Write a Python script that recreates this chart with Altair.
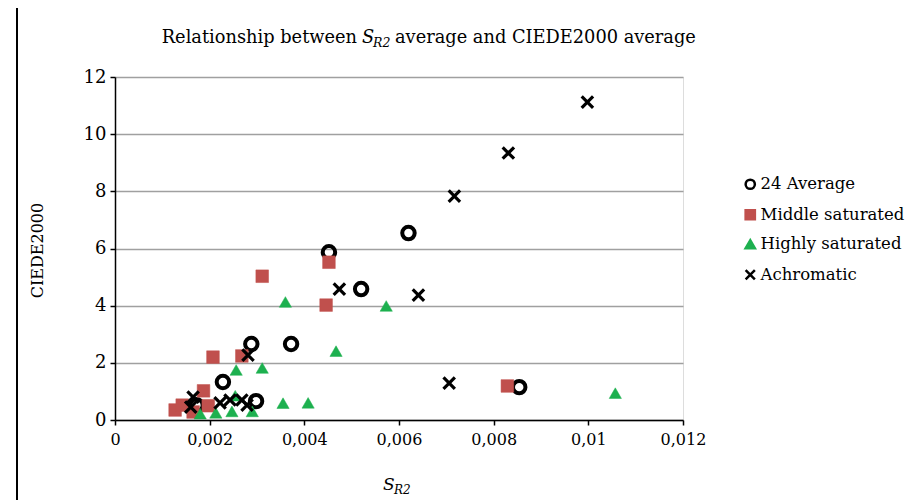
import altair as alt
import pandas as pd

SERIES = ["24 Average", "Middle saturated", "Highly saturated", "Achromatic"]

avg_x = [0.00172, 0.00228, 0.00288, 0.00298, 0.00372, 0.00452, 0.0052, 0.0062, 0.00854]
avg_y = [0.52, 1.33, 2.66, 0.66, 2.66, 5.87, 4.58, 6.54, 1.15]

mid_x = [0.00127, 0.00142, 0.00165, 0.00197, 0.00187, 0.00207, 0.00268, 0.00311, 0.00446, 0.00452, 0.00829]
mid_y = [0.35, 0.52, 0.28, 0.5, 1.02, 2.2, 2.24, 5.03, 4.02, 5.52, 1.19]

hi_x = [0.0018, 0.00213, 0.00247, 0.00254, 0.0029, 0.00256, 0.00311, 0.00355, 0.0036, 0.00408, 0.00467, 0.00573, 0.01057]
hi_y = [0.22, 0.25, 0.3, 0.85, 0.3, 1.75, 1.82, 0.59, 4.13, 0.6, 2.41, 3.99, 0.94]

ach_x = [0.0016, 0.00165, 0.00222, 0.00243, 0.00268, 0.00279, 0.00281, 0.00474, 0.00641, 0.00706, 0.00717, 0.00831, 0.00998]
ach_y = [0.45, 0.8, 0.6, 0.7, 0.7, 0.52, 2.27, 4.58, 4.37, 1.29, 7.83, 9.34, 11.12]

X_TICKS = [0, 0.002, 0.004, 0.006, 0.008, 0.01, 0.012]
Y_TICKS = [0, 2, 4, 6, 8, 10, 12]

TITLE_LEFT = ["Relationship between"]
TITLE_S = ["S"]
TITLE_SUB = ["R2"]
TITLE_RIGHT = ["average and CIEDE2000 average"]
Y_TITLE = "CIEDE2000"

rows = []
for name, xs, ys in [(SERIES[0], avg_x, avg_y), (SERIES[1], mid_x, mid_y),
                     (SERIES[2], hi_x, hi_y), (SERIES[3], ach_x, ach_y)]:
    for x, y in zip(xs, ys):
        rows.append({"series": name, "x": x, "y": y})
df = pd.DataFrame(rows)

FONT = "DejaVu Serif"
XPATH = "M-1,-1L1,1M-1,1L1,-1"

# size / stroke width use the series in reverse order so their (hidden)
# legends are not merged with the visible shape/colour legend
REV = SERIES[::-1]

leg = alt.Legend(title=None,
                 labelExpr="datum.label == 'Achromatic' ? '\u00a0Achromatic' : datum.label")

points = alt.Chart(df).mark_point(opacity=1).encode(
    x=alt.X("x:Q", scale=alt.Scale(domain=[0, 0.012], nice=False),
            axis=alt.Axis(values=X_TICKS, title=None, grid=False, labelFlush=False,
                          labelExpr="replace(toString(datum.value), '.', ',')",
                          labelFont=FONT, labelFontSize=16, labelColor="black",
                          domainColor="black", domainWidth=1.5,
                          tickColor="black", tickSize=5, tickWidth=1.5,
                          labelPadding=6)),
    y=alt.Y("y:Q", scale=alt.Scale(domain=[0, 12], nice=False),
            axis=alt.Axis(values=Y_TICKS, title=Y_TITLE, grid=True,
                          gridColor="#A0A0A0", gridWidth=1.5,
                          labelFont=FONT, labelFontSize=18, labelColor="black",
                          domainColor="black", domainWidth=1.5,
                          tickColor="black", tickSize=5, tickWidth=1.5,
                          labelPadding=4,
                          titleFont=FONT, titleFontSize=16, titleFontWeight="normal",
                          titleColor="black", titleX=-78, titleY=173,
                          titleAngle=-90, titleAlign="center", titleBaseline="middle")),
    shape=alt.Shape("series:N", scale=alt.Scale(domain=SERIES,
                    range=["circle", "square", "triangle-up", XPATH]), legend=leg),
    fill=alt.Fill("series:N", scale=alt.Scale(domain=SERIES,
                  range=["transparent", "#C0504D", "#1DB04F", "transparent"]), legend=leg),
    stroke=alt.Stroke("series:N", scale=alt.Scale(domain=SERIES,
                      range=["black", "#C0504D", "#1DB04F", "black"]), legend=leg),
    strokeWidth=alt.StrokeWidth("series:N", scale=alt.Scale(type="ordinal", domain=REV,
                                range=[3.2, 0.5, 0.5, 4]), legend=None),
    size=alt.Size("series:N", scale=alt.Scale(type="ordinal", domain=REV,
                  range=[130, 150, 160, 155]), legend=None),
)

def txt(values, x, y, size, style="normal", align="left"):
    return alt.Chart(pd.DataFrame({"t": values})).mark_text(
        font=FONT, fontSize=size, fontStyle=style, align=align,
        baseline="alphabetic", color="black"
    ).encode(text="t:N", x=alt.value(x), y=alt.value(y))

title_layers = [
    txt(TITLE_LEFT, 242, -34, 17.8, align="right"),
    txt(TITLE_S, 247, -34, 17.8, style="italic"),
    txt(TITLE_SUB, 258, -30, 12.5, style="italic"),
    txt(TITLE_RIGHT, 280, -34, 17.8),
    txt(["S"], 268, 413, 17, style="italic"),
    txt(["R2"], 279, 417, 12, style="italic"),
]

border = alt.Chart(pd.DataFrame({"k": [0]})).mark_rule(color="black", strokeWidth=2).encode(
    x=alt.value(-98), y=alt.value(-77), y2=alt.value(423))

chart = alt.layer(points, *title_layers, border).properties(
    width=568, height=343,
    autosize=alt.AutoSizeParams(type="none"),
    padding={"left": 107, "top": 69, "right": 222, "bottom": 80},
).configure_view(strokeWidth=0).configure(background="white").configure_legend(
    orient="none", legendX=627, legendY=99,
    labelFont=FONT, labelFontSize=16.5, labelColor="black",
    rowPadding=10.5, symbolSize=85, symbolStrokeWidth=2.5,
    labelOffset=2, padding=0,
)

chart.save("out.html", embed_options={"renderer": "svg", "actions": False})
